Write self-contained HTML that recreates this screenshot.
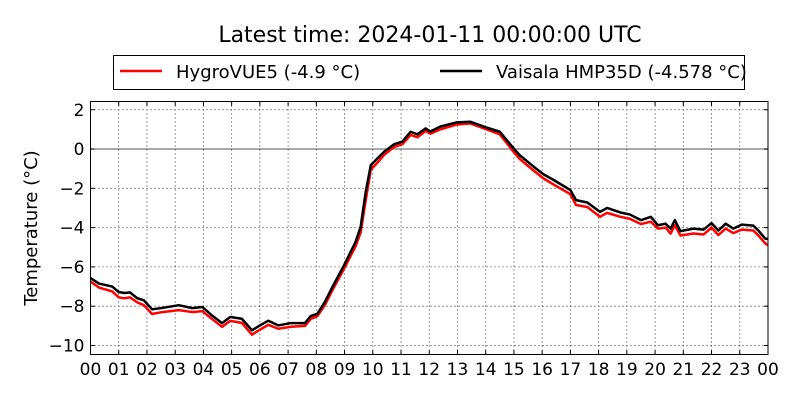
<!DOCTYPE html>
<html><head><meta charset="utf-8"><style>
body{margin:0;background:#fff}
svg{display:block;font-family:"DejaVu Sans","Liberation Sans",sans-serif}
</style></head><body>
<svg id="chart" width="800" height="400" viewBox="0 0 800 400">
<text x="430" y="42" font-size="22" text-anchor="middle">Latest time: 2024-01-11 00:00:00 UTC</text>
<g>
<rect x="113.5" y="55.5" width="631" height="34" fill="#fff" stroke="#000" stroke-width="1"/>
<line x1="120" y1="71" x2="162" y2="71" stroke="#f00" stroke-width="2.5"/>
<text x="176" y="78" font-size="18">HygroVUE5 (-4.9 °C)</text>
<line x1="440" y1="71" x2="482" y2="71" stroke="#000" stroke-width="2.5"/>
<text x="496" y="78" font-size="18">Vaisala HMP35D (-4.578 °C)</text>
</g>
<text transform="translate(37,228) rotate(-90)" font-size="18" text-anchor="middle">Temperature (°C)</text>
<g id="plot"></g>
</svg>
<script>
const hourTicks = ["00","01","02","03","04","05","06","07","08","09","10","11","12","13","14","15","16","17","18","19","20","21","22","23","00"];
const yTicks = [2,0,-2,-4,-6,-8,-10];
const hours = [0,0.3,0.77,1.0,1.2,1.4,1.65,1.89,2.18,2.54,3.13,3.6,3.96,4.3,4.66,4.95,5.36,5.72,6.0,6.3,6.65,7.1,7.6,7.8,8.04,8.3,8.6,8.98,9.39,9.57,9.75,9.93,10.16,10.4,10.75,11.05,11.34,11.58,11.87,12.04,12.39,12.98,13.45,14.04,14.5,14.99,15.2,15.7,16.05,16.4,17.0,17.2,17.6,18.05,18.3,18.77,19.1,19.5,19.85,20.1,20.37,20.55,20.7,20.9,21.36,21.72,22.0,22.24,22.5,22.77,23.07,23.48,23.66,23.9,24];
const vaisala = [-6.57,-6.85,-7.0,-7.28,-7.33,-7.3,-7.59,-7.7,-8.16,-8.09,-7.95,-8.1,-8.04,-8.47,-8.86,-8.55,-8.64,-9.23,-8.98,-8.74,-8.98,-8.86,-8.86,-8.5,-8.38,-7.79,-6.94,-5.92,-4.73,-3.96,-2.18,-0.82,-0.48,-0.14,0.24,0.38,0.88,0.75,1.05,0.89,1.14,1.36,1.39,1.09,0.88,0.03,-0.31,-0.9,-1.29,-1.57,-2.09,-2.6,-2.72,-3.2,-3.0,-3.23,-3.33,-3.62,-3.45,-3.88,-3.8,-4.05,-3.62,-4.18,-4.05,-4.1,-3.77,-4.15,-3.8,-4.05,-3.85,-3.9,-4.15,-4.56,-4.58];
const hygrovue = [-6.75,-7.05,-7.25,-7.55,-7.6,-7.55,-7.8,-7.95,-8.4,-8.3,-8.2,-8.3,-8.25,-8.65,-9.05,-8.75,-8.85,-9.45,-9.2,-8.95,-9.15,-9.05,-9.0,-8.65,-8.5,-7.95,-7.1,-6.1,-4.95,-4.25,-2.6,-1.05,-0.7,-0.3,0.1,0.25,0.72,0.6,0.92,0.78,1.0,1.25,1.3,1.0,0.75,-0.15,-0.5,-1.1,-1.5,-1.8,-2.3,-2.85,-2.95,-3.45,-3.25,-3.45,-3.55,-3.82,-3.7,-4.05,-4.0,-4.3,-3.88,-4.4,-4.3,-4.35,-4.0,-4.38,-4.05,-4.28,-4.1,-4.15,-4.4,-4.8,-4.9];

const L=90.5,R=768,T=101.5,B=354.5,YMAX=2.42,YMIN=-10.46;
const xs=h=>L+(R-L)*h/24;
const ys=v=>T+(B-T)*(YMAX-v)/(YMAX-YMIN);
const NS="http://www.w3.org/2000/svg";
const plot=document.getElementById('plot');
function mk(tag,attrs,parent){const e=document.createElementNS(NS,tag);for(const k in attrs)e.setAttribute(k,attrs[k]);(parent||plot).appendChild(e);return e;}

const grid=mk('g',{});


hourTicks.forEach((t,i)=>{
  const x=xs(i);
  if(i>0&&i<24){const g=mk('line',{x1:x,y1:T,x2:x,y2:B,stroke:'#000','stroke-width':0.8,'stroke-dasharray':'1,3'},grid);
  
  }
  const tk=mk('line',{x1:x,y1:B,x2:x,y2:B-4,stroke:'#000','stroke-width':1});
  
  
  const tk2=mk('line',{x1:x,y1:T,x2:x,y2:T+4,stroke:'#000','stroke-width':1});
  
  
  const tx=mk('text',{x:x,y:375,'font-size':17,'text-anchor':'middle'});
  tx.textContent=t;
  
  
});
yTicks.forEach(v=>{
  const y=ys(v);
  if(v===0){const z=mk('line',{x1:L,y1:y,x2:R,y2:y,stroke:'#777','stroke-width':1.2});
    
    }
  else{const g=mk('line',{x1:L,y1:y,x2:R,y2:y,stroke:'#000','stroke-width':0.8,'stroke-dasharray':'1,3'},grid);
    
    }
  const tk=mk('line',{x1:L,y1:y,x2:L+4,y2:y,stroke:'#000'});
  
  
  const tk2=mk('line',{x1:R,y1:y,x2:R-4,y2:y,stroke:'#000'});
  
  
  const tx=mk('text',{x:L-6,y:y+6,'font-size':17,'text-anchor':'end'});
  tx.textContent=String(v).replace('-','\u2212');
  
  
});
function line(vals,color,name){
  const p=mk('polyline',{points:hours.map((h,i)=>xs(h)+','+ys(vals[i])).join(' '),fill:'none',stroke:color,'stroke-width':2.5,'stroke-linejoin':'round'});
  
  
}
line(hygrovue,'#f00','series-hygrovue5');
line(vaisala,'#000','series-vaisala-hmp35d');
const frame=mk('rect',{x:L,y:T,width:R-L,height:B-T,fill:'none',stroke:'#000','stroke-width':1});


</script>
</body></html>
